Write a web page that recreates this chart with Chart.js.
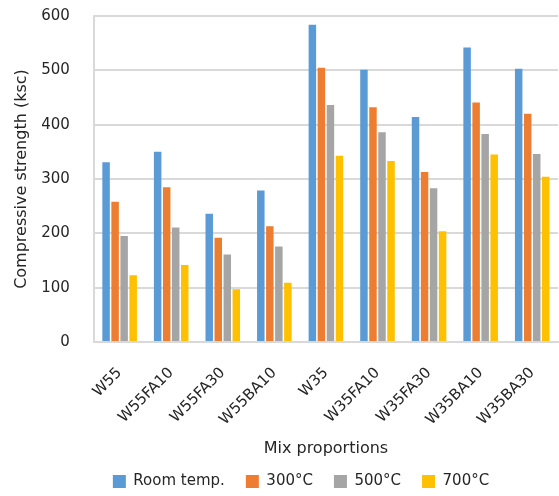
<!DOCTYPE html>
<html>
<head>
<meta charset="utf-8">
<script src="https://cdn.jsdelivr.net/npm/chart.js@4/dist/chart.umd.min.js"></script>
<style>
  html, body { margin: 0; padding: 0; background: #fff; }
  #wrap { width: 559px; height: 496px; }
</style>
</head>
<body>
<div id="wrap"><canvas id="c" width="559" height="496"></canvas></div>
<script>
// Compressive strength (ksc) of each mix after exposure to temperature
const mixes = ['W55', 'W55FA10', 'W55FA30', 'W55BA10', 'W35', 'W35FA10', 'W35FA30', 'W35BA10', 'W35BA30'];
const roomTemp = [331, 350, 236, 279, 584, 501, 414, 542, 503];
const temp300 = [258, 285, 192, 213, 505, 432, 313, 441, 420];
const temp500 = [195, 211, 161, 176, 436, 386, 283, 383, 346];
const temp700 = [123, 142, 97, 109, 343, 333, 204, 345, 304];
const seriesNames = ['Room temp.', '300°C', '500°C', '700°C'];
const yTicks = [0, 100, 200, 300, 400, 500, 600];

const colors = ['#5b9bd5', '#ed7d31', '#a5a5a5', '#ffc000'];
const font = "'DejaVu Sans', sans-serif";
const textColor = '#262626';

const datasets = [roomTemp, temp300, temp500, temp700].map((vals, i) => ({
  label: seriesNames[i],
  data: vals,
  backgroundColor: colors[i],
  borderWidth: 0,
  barPercentage: 0.83,
  categoryPercentage: 0.70
}));

// nudge the legend row a little to the right of the canvas centre
const legendShift = {
  id: 'legendShift',
  afterUpdate(chart) {
    const lg = chart.legend;
    if (!lg) return;
    lg.left += 16;
    lg.right += 16;
    lg.adjustHitBoxes();
  }
};

new Chart(document.getElementById('c'), {
  type: 'bar',
  data: { labels: mixes, datasets },
  plugins: [legendShift],
  options: {
    responsive: false,
    animation: false,
    layout: { padding: { top: 16, right: 1, left: 12, bottom: -3 } },
    plugins: {
      legend: {
        position: 'bottom',
        labels: {
          font: { family: font, size: 15 },
          color: textColor,
          boxWidth: 13,
          boxHeight: 13,
          padding: 21
        }
      },
      tooltip: { enabled: false }
    },
    scales: {
      x: {
        grid: { display: false },
        border: { color: '#d9d9d9', width: 2 },
        ticks: {
          font: { family: font, size: 15 },
          color: textColor,
          minRotation: 45,
          maxRotation: 45,
          padding: 14
        },
        title: {
          display: true,
          text: 'Mix proportions',
          font: { family: font, size: 16 },
          color: textColor,
          padding: { top: -4, bottom: -5 }
        }
      },
      y: {
        min: 0,
        max: 600,
        afterBuildTicks: (axis) => { axis.ticks = yTicks.map(v => ({ value: v })); },
        grid: { color: '#d9d9d9', lineWidth: 2, drawTicks: true, tickLength: 20, tickColor: 'rgba(0,0,0,0)' },
        border: { color: '#d9d9d9', width: 2 },
        ticks: {
          font: { family: font, size: 15 },
          color: textColor,
          padding: 4
        },
        title: {
          display: true,
          text: 'Compressive strength (ksc)',
          font: { family: font, size: 16 },
          color: textColor,
          padding: { top: 0, bottom: 6 }
        }
      }
    }
  }
});
</script>
</body>
</html>
